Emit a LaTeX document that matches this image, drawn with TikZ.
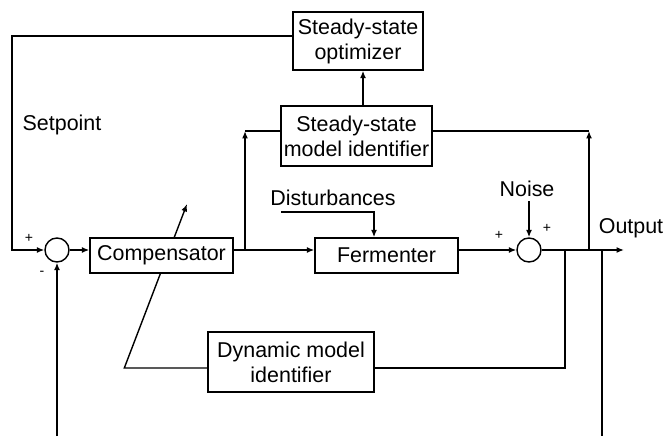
\documentclass[tikz,border=0pt]{standalone}
\usepackage{fontspec}
\setmainfont{Liberation Sans}
\usepackage{tikz}
\usetikzlibrary{arrows.meta, calc, backgrounds}

\begin{document}
\begin{tikzpicture}[
    line width=0.8pt,
    arr/.style={-{Latex[length=1.5mm, width=1.2mm]}},
    block/.style={draw, fill=white, align=center, inner sep=0pt,
      font=\fontsize{12.2}{14.2}\selectfont},
    sumnode/.style={draw, circle, fill=white, minimum size=0.48cm, inner sep=0pt},
    lbl/.style={font=\fontsize{12.2}{14.2}\selectfont, inner sep=2pt},
    sgn/.style={font=\fontsize{8}{9}\selectfont, inner sep=0pt}
  ]
  \useasboundingbox (0,0) rectangle (13.26,8.72);

  % Blocks
  \node[block, minimum width=2.60cm, minimum height=1.16cm] (opt) at (7.16,7.90) {Steady-state\\optimizer};
  \node[block, minimum width=3.02cm, minimum height=1.20cm] (ssmi) at (7.13,6.00) {Steady-state\\model identifier};
  \node[block, minimum width=2.86cm, minimum height=0.70cm] (comp) at (3.23,3.61) {Compensator};
  \node[block, minimum width=2.86cm, minimum height=0.70cm] (ferm) at (7.73,3.61) {Fermenter};
  \node[block, minimum width=3.32cm, minimum height=1.20cm] (dyn) at (5.82,1.48) {Dynamic model\\identifier};

  % Summing junctions
  \node[sumnode] (sum1) at (1.14,3.72) {};
  \node[sumnode] (sum2) at (10.58,3.72) {};

  % Labels
  \node[lbl] (setpoint) at (1.24,6.22) {Setpoint};
  \node[lbl] (dist) at (6.66,4.76) {Disturbances};
  \node[lbl, anchor=base] (noise) at (10.54,4.78) {Noise};
  \node[lbl] (output) at (12.62,4.16) {Output};

  % Signs
  \node[sgn] (p1) at (0.58,3.96) {+};
  \node[sgn] (m1) at (0.84,3.26) {-};
  \node[sgn] (p2) at (9.98,4.02) {+};
  \node[sgn] (p3) at (10.94,4.16) {+};

  % Branch points and open ends
  \coordinate (setpt) at (0.24,8.00);
  \coordinate (fbbot) at (1.14,0);
  \coordinate (br1) at (4.90,3.72);
  \coordinate (br1top) at (4.90,6.10);
  \coordinate (br2) at (11.78,3.72);
  \coordinate (br2top) at (11.78,6.10);
  \coordinate (br3) at (11.30,3.72);
  \coordinate (br4) at (12.04,3.72);
  \coordinate (br4bot) at (12.04,0);
  \coordinate (out) at (12.48,3.72);
  \coordinate (distin) at (5.62,4.48);
  \coordinate (adj) at (3.74,4.64);

  % Setpoint loop and feedback
  \draw[arr] (opt.west |- setpt) -- (setpt) |- (sum1.west);
  \draw[arr] (fbbot) -- (sum1.south);
  \draw[arr] (sum1.east) -- (sum1.east -| comp.west);

  % Forward path
  \draw[arr] (comp.east |- sum1) -- (ferm.west |- sum1);
  \draw[arr] (ferm.east |- sum2) -- (sum2.west);
  \draw[arr] (sum2.east) -- (out);
  \draw[arr] (distin) -| ([xshift=-2.5mm]ferm.north);
  \draw[arr] (noise.south -| sum2) -- (sum2.north);

  % Steady-state identification
  \draw[arr] (br1) -- (br1top);
  \draw (br1top) -- (br1top -| ssmi.west);
  \draw (ssmi.east |- br2top) -- (br2top);
  \draw[arr] (br2) -- (br2top);
  \draw[arr] ([xshift=1.3mm]ssmi.north) -- ([xshift=1.3mm]ssmi.north |- opt.south);

  % Dynamic identification
  \draw (br3) |- ([yshift=-1.2mm]dyn.east);
  \draw (br4) -- (br4bot);
  \begin{scope}[on background layer]
    \draw[arr, line width=0.8pt] ([yshift=-1.2mm]dyn.west) -- ++(-1.66,0) -- (adj);
  \end{scope}
\end{tikzpicture}
\end{document}
